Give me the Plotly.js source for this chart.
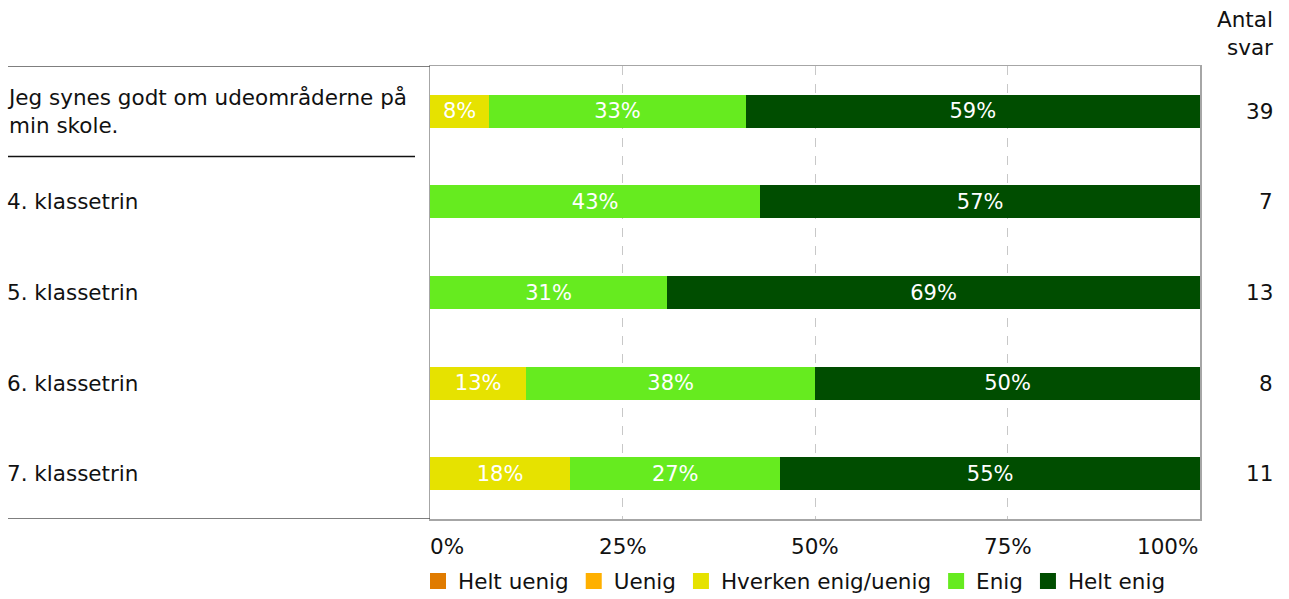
<!DOCTYPE html>
<html>
<head>
<meta charset="utf-8">
<script src="https://cdn.plot.ly/plotly-3.0.1.min.js"></script>
<style>
  html, body { margin: 0; padding: 0; background: #fff; }
  #chart { width: 1289px; height: 599px; }
</style>
</head>
<body>
<div id="chart"></div>
<script>
// ---- Data ----
const categories = [
  "Jeg synes godt om udeområderne på<br>min skole.",
  "4. klassetrin",
  "5. klassetrin",
  "6. klassetrin",
  "7. klassetrin"
];
const counts = [39, 7, 13, 8, 11];
const seriesNames = ["Helt uenig", "Uenig", "Hverken enig/uenig", "Enig", "Helt enig"];
const seriesColors = ["#E07B00", "#FFB000", "#E6E200", "#66EB1F", "#004D00"];
const heltUenig = [0, 0, 0, 0, 0];
const uenig     = [0, 0, 0, 0, 0];
const hverken   = [7.7, 0, 0, 12.5, 18.2];
const enig      = [33.3, 42.9, 30.8, 37.5, 27.3];
const heltEnig  = [59.0, 57.1, 69.2, 50.0, 54.5];
const xTickVals = [0, 25, 50, 75, 100];
const xTickText = ["0%", "25%", "50%", "75%", "100%"];
const countHeader = "Antal<br>svar";

const seriesValues = [heltUenig, uenig, hverken, enig, heltEnig];

// ---- Layout geometry ----
const W = 1289, H = 599;
const M = { l: 430, r: 89, t: 66, b: 80, autoexpand: false };
const plotW = W - M.l - M.r;
const plotH = H - M.t - M.b;
const px2paperX = p => (p - M.l) / plotW;

const FONT = "DejaVu Sans, Verdana, sans-serif";
const FS = 21.5;

const traces = [];
seriesValues.forEach((vals, i) => {
  traces.push({
    type: "bar",
    orientation: "h",
    name: seriesNames[i],
    y: categories,
    x: vals,
    marker: { color: seriesColors[i], line: { width: 0 } },
    text: vals.map(v => v > 0 ? Math.round(v) + "%" : ""),
    textposition: "inside",
    insidetextanchor: "middle",
    textangle: 0,
    constraintext: "none",
    insidetextfont: { family: FONT, size: 21, color: "#ffffff" },
    hoverinfo: "x+name",
    showlegend: false,
    legendgroup: seriesNames[i]
  });
});
// legend entries (square swatches)
seriesNames.forEach((n, i) => {
  traces.push({
    type: "scatter",
    mode: "markers",
    name: n,
    x: [null], y: [null],
    marker: { symbol: "square", size: 16, color: seriesColors[i] },
    legendgroup: n,
    showlegend: true,
    hoverinfo: "skip"
  });
});

const annotations = [];
categories.forEach((c, i) => {
  annotations.push({
    xref: "paper", yref: "y",
    x: px2paperX(5), y: c,
    xanchor: "left", yanchor: "middle", align: "left",
    text: c, showarrow: false,
    font: { family: FONT, size: FS, color: "#111" }
  });
  annotations.push({
    xref: "paper", yref: "y",
    x: px2paperX(1275), y: c,
    xanchor: "right", yanchor: "middle", align: "right",
    text: String(counts[i]), showarrow: false,
    font: { family: FONT, size: FS, color: "#111" }
  });
});
annotations.push({
  xref: "paper", yref: "paper",
  x: px2paperX(1275), y: 1, yshift: 33,
  xanchor: "right", yanchor: "middle", align: "right",
  text: countHeader, showarrow: false,
  font: { family: FONT, size: FS, color: "#111" }
});
xTickVals.forEach((v, i) => {
  const anchor = i === 0 ? "left" : (i === xTickVals.length - 1 ? "right" : "center");
  annotations.push({
    xref: "x", yref: "paper",
    x: v, y: 0, yshift: -27, xshift: i === 0 ? -2 : 0,
    xanchor: anchor, yanchor: "middle",
    text: xTickText[i], showarrow: false,
    font: { family: FONT, size: FS, color: "#111" }
  });
});

const shapes = [
  { type: "line", xref: "paper", yref: "y", x0: px2paperX(8), x1: 0, y0: -0.5, y1: -0.5,
    line: { color: "#555555", width: 1.5 } },
  { type: "line", xref: "paper", yref: "y", x0: px2paperX(8), x1: px2paperX(415), y0: 0.5, y1: 0.5,
    line: { color: "#111111", width: 1.5 } },
  { type: "line", xref: "paper", yref: "y", x0: px2paperX(8), x1: 0, y0: 4.5, y1: 4.5,
    line: { color: "#555555", width: 1.5 } }
];

const layout = {
  width: W, height: H,
  margin: M,
  paper_bgcolor: "#ffffff",
  plot_bgcolor: "#ffffff",
  font: { family: FONT, size: FS, color: "#111" },
  barmode: "stack",
  bargap: 0.636,
  showlegend: true,
  legend: {
    orientation: "h",
    x: px2paperX(418), xanchor: "left",
    y: -(581 - 519) / plotH, yanchor: "middle",
    font: { family: FONT, size: FS, color: "#111" },
    traceorder: "normal",
    itemclick: false, itemdoubleclick: false
  },
  xaxis: {
    range: [0, 100],
    tickvals: xTickVals,
    showticklabels: false,
    ticks: "",
    showgrid: true,
    gridcolor: "#C8C8C8",
    griddash: "dash",
    gridwidth: 1,
    zeroline: false,
    showline: true, mirror: true,
    linecolor: "#A6A6A6", linewidth: 1.5,
    fixedrange: true
  },
  yaxis: {
    type: "category",
    categoryorder: "array",
    categoryarray: categories,
    range: [4.5, -0.5],
    showticklabels: false,
    ticks: "",
    showgrid: false,
    zeroline: false,
    showline: true, mirror: true,
    linecolor: "#A6A6A6", linewidth: 1.5,
    fixedrange: true
  },
  annotations: annotations,
  shapes: shapes
};

Plotly.newPlot("chart", traces, layout, { displayModeBar: false, staticPlot: true });
</script>
</body>
</html>
